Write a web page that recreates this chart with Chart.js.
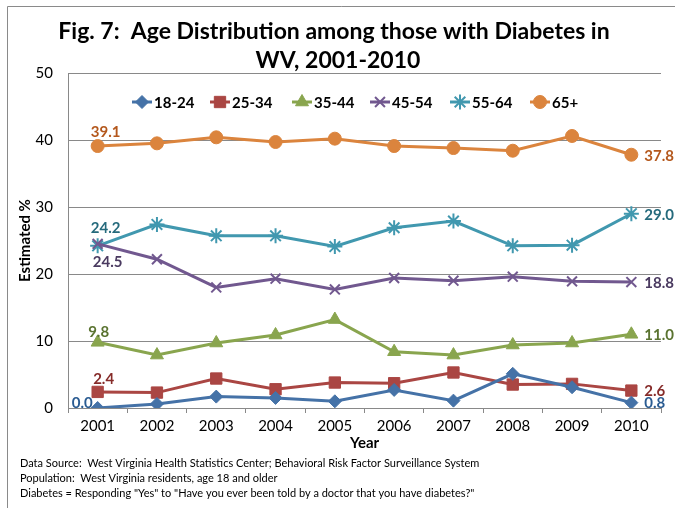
<!DOCTYPE html>
<html>
<head>
<meta charset="utf-8">
<script src="https://cdn.jsdelivr.net/npm/chart.js@4.4.1/dist/chart.umd.min.js"></script>
<style>
  html, body { margin: 0; padding: 0; background: #fff; }
  #wrap { position: relative; width: 675px; height: 508px; }
</style>
</head>
<body>
<div id="wrap"><canvas id="fig7" width="675" height="508"></canvas></div>
<script>
// values
const years = ['2001', '2002', '2003', '2004', '2005', '2006', '2007', '2008', '2009', '2010'];
const seriesNames = ['18-24', '25-34', '35-44', '45-54', '55-64', '65+'];
const age18to24 = [0.0, 0.6, 1.7, 1.5, 1.0, 2.7, 1.1, 5.1, 3.1, 0.8];
const age25to34 = [2.4, 2.3, 4.4, 2.8, 3.8, 3.7, 5.3, 3.5, 3.6, 2.6];
const age35to44 = [9.8, 7.9, 9.7, 10.9, 13.2, 8.4, 7.9, 9.4, 9.7, 11.0];
const age45to54 = [24.5, 22.2, 18.0, 19.3, 17.7, 19.4, 19.0, 19.6, 18.9, 18.8];
const age55to64 = [24.2, 27.4, 25.7, 25.7, 24.1, 26.9, 27.9, 24.2, 24.3, 29.0];
const age65plus = [39.1, 39.5, 40.4, 39.7, 40.2, 39.1, 38.8, 38.4, 40.6, 37.8];
const yTicks = [0, 10, 20, 30, 40, 50];

const titleLines = ['Fig. 7:  Age Distribution among those with Diabetes in', 'WV, 2001-2010'];
const notes = [
  'Data Source:  West Virginia Health Statistics Center; Behavioral Risk Factor Surveillance System',
  'Population:  West Virginia residents, age 18 and older',
  'Diabetes = Responding "Yes" to "Have you ever been told by a doctor that you have diabetes?"'
];

const FONT = 'Lato, "Open Sans", sans-serif';
const GRID = '#898989';

// per-series look
const styles = [
  { color: '#4572A7', label: '#2B5C92', point: 'rectRot', radius: 6.5, bw: 1 },
  { color: '#AA4643', label: '#862B29', point: 'rect', radius: 8, bw: 1 },
  { color: '#89A54E', label: '#5A7330', point: 'triangle', radius: 7.5, bw: 1 },
  { color: '#71588F', label: '#4A3A60', point: 'crossRot', radius: 7, bw: 2 },
  { color: '#4198AF', label: '#256A7C', point: 'star', radius: 7.5, bw: 2 },
  { color: '#DB843D', label: '#B4581D', point: 'circle', radius: 6.5, bw: 1 }
];
// where the first / last value labels sit relative to their point
const firstLabel = [
  { dx: -5, dy: -5, align: 'right' },
  { dx: 6, dy: -13, align: 'center' },
  { dx: 1, dy: -10, align: 'center' },
  { dx: 10, dy: 18, align: 'center' },
  { dx: 8, dy: -18, align: 'center' },
  { dx: 8, dy: -14, align: 'center' }
];

const values = [age18to24, age25to34, age35to44, age45to54, age55to64, age65plus];

const datasets = values.map((v, i) => ({
  label: seriesNames[i],
  data: v,
  borderColor: styles[i].color,
  backgroundColor: styles[i].color,
  borderWidth: 3,
  pointStyle: styles[i].point,
  pointRadius: styles[i].radius,
  pointBorderWidth: styles[i].bw,
  pointBackgroundColor: styles[i].color,
  pointBorderColor: styles[i].color,
  tension: 0
}));

const decorPlugin = {
  id: 'decor',
  afterDraw(chart) {
    const ctx = chart.ctx;
    ctx.save();
    // frame
    ctx.strokeStyle = '#8a8a8a';
    ctx.lineWidth = 1;
    ctx.beginPath();
    ctx.moveTo(7.5, 508);
    ctx.lineTo(7.5, 6.5);
    ctx.lineTo(675, 6.5);
    ctx.stroke();

    // title
    ctx.fillStyle = '#000';
    ctx.font = 'bold 23px ' + FONT;
    ctx.textAlign = 'center';
    ctx.textBaseline = 'middle';
    ctx.fillText(titleLines[0], 334, 32);
    ctx.fillText(titleLines[1], 338, 61);

    // legend
    ctx.font = 'bold 15px ' + FONT;
    ctx.textAlign = 'left';
    const legX = [132, 210, 292, 370, 450, 530];
    const legY = 102;
    seriesNames.forEach((name, i) => {
      const s = styles[i];
      ctx.strokeStyle = s.color;
      ctx.fillStyle = s.color;
      ctx.lineWidth = 3;
      ctx.beginPath();
      ctx.moveTo(legX[i], legY);
      ctx.lineTo(legX[i] + 20, legY);
      ctx.stroke();
      ctx.lineWidth = s.bw;
      Chart.helpers.drawPoint(ctx, { pointStyle: s.point, radius: s.radius, rotation: 0, borderWidth: s.bw }, legX[i] + 10, legY);
      ctx.fillStyle = '#000';
      ctx.fillText(name, legX[i] + 22, legY + 1);
    });

    // value labels at first and last year
    ctx.font = 'bold 15px ' + FONT;
    chart.data.datasets.forEach((ds, i) => {
      const meta = chart.getDatasetMeta(i);
      const p0 = meta.data[0];
      const pN = meta.data[meta.data.length - 1];
      const f = firstLabel[i];
      ctx.fillStyle = styles[i].label;
      ctx.textAlign = f.align;
      ctx.fillText(ds.data[0].toFixed(1), p0.x + f.dx, p0.y + f.dy);
      ctx.textAlign = 'left';
      ctx.fillText(ds.data[ds.data.length - 1].toFixed(1), pN.x + 13, pN.y + 1);
    });

    // footnotes
    ctx.fillStyle = '#000';
    ctx.font = '11px ' + FONT;
    ctx.textAlign = 'left';
    notes.forEach((t, k) => ctx.fillText(t, 20, 463 + k * 15));
    ctx.restore();
  }
};

new Chart(document.getElementById('fig7'), {
  type: 'line',
  data: { labels: years, datasets },
  plugins: [decorPlugin],
  options: {
    responsive: false,
    animation: false,
    layout: { padding: { left: 10, top: 73, right: 14, bottom: 56 } },
    font: { family: FONT },
    plugins: {
      legend: { display: false },
      title: { display: false },
      tooltip: { enabled: false }
    },
    scales: {
      x: {
        offset: true,
        afterFit: (s) => { s.height = 44; },
        grid: { offset: true, drawOnChartArea: false, drawTicks: true, tickLength: 5, color: GRID },
        border: { color: GRID, width: 1 },
        ticks: { color: '#000', padding: 4, font: { family: FONT, size: 15 }, maxRotation: 0 },
        title: { display: true, text: 'Year', color: '#000', padding: 0, font: { family: FONT, size: 15, weight: 'bold' } }
      },
      y: {
        min: 0,
        max: 50,
        afterFit: (s) => { s.width = 58; },
        afterBuildTicks: (s) => { s.ticks = yTicks.map(v => ({ value: v })); },
        grid: { color: GRID, drawTicks: false, lineWidth: (c) => c.tick && c.tick.value === 0 ? 0 : 1 },
        border: { color: GRID, width: 1 },
        ticks: { color: '#000', padding: 15, font: { family: FONT, size: 15 } },
        title: { display: true, text: 'Estimated %', color: '#000', padding: { top: 6, bottom: 0 }, font: { family: FONT, size: 15, weight: 'bold' } }
      }
    }
  }
});
</script>
</body>
</html>
